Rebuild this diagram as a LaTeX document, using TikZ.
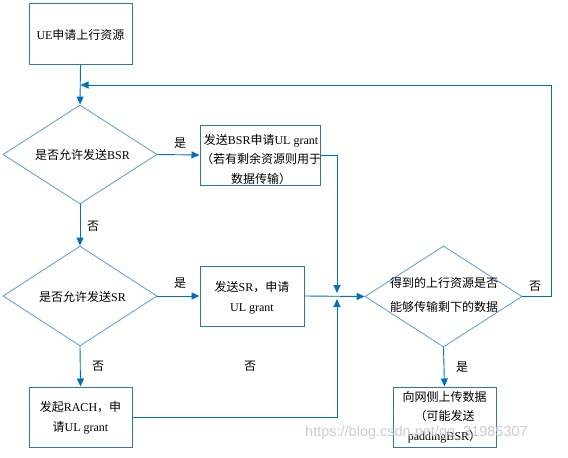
\documentclass[tikz,border=0pt]{standalone}
\usepackage{fontspec}
\setmainfont{Liberation Serif}
\newfontfamily\cjk{Noto Sans CJK SC}
\newcommand\zh[1]{{\cjk #1}}
\usetikzlibrary{arrows.meta,shapes.geometric}
\definecolor{boxblue}{RGB}{46,117,182}
\definecolor{diablue}{RGB}{91,155,213}
\definecolor{lineblue}{RGB}{0,112,192}
\tikzset{
  procbox/.style={draw=boxblue,line width=1pt,fill=white,rectangle,inner sep=0pt},
  decbox/.style={draw=diablue,line width=0.8pt,fill=white,diamond,inner sep=0pt},
  txt/.style={align=center,inner sep=0pt,font=\fontsize{12}{19.5}\selectfont},
  dtxt/.style={align=center,inner sep=0pt,font=\fontsize{12}{24}\selectfont},
  lbl/.style={inner sep=0pt,font=\fontsize{12}{14}\selectfont},
  conn/.style={draw=lineblue,line width=0.9pt},
  arr/.style={conn,-{Triangle[length=8pt,width=7pt]}},
  wmark/.style={inner sep=0pt,text=black!22,opacity=0.9,font=\fontspec{Liberation Sans}\fontsize{14.5}{16}\selectfont}
}
\begin{document}
\begin{tikzpicture}[x=1pt,y=-1pt]
\useasboundingbox (0,0) rectangle (568,458);
% process boxes
\node[procbox,minimum width=103pt,minimum height=61pt] (ue) at (80.5,34) {};
\node[procbox,minimum width=120pt,minimum height=60pt] (bsr) at (260,155) {};
\node[procbox,minimum width=104pt,minimum height=60pt] (sr) at (252,296) {};
\node[procbox,minimum width=103pt,minimum height=60pt] (rach) at (80.5,417) {};
\node[procbox,minimum width=103pt,minimum height=60pt] (fin) at (444.5,417) {};
% decisions
\node[decbox,minimum width=154pt,minimum height=99pt] (d1) at (80,154.5) {};
\node[decbox,minimum width=154pt,minimum height=100pt] (d2) at (80,296) {};
\node[decbox,minimum width=157pt,minimum height=101pt] (d3) at (443.5,296.5) {};
% texts
\node[txt] (uet) at (80.5,35) {UE\zh{申请上行资源}};
\node[txt] (bsrt) at (261,159.5) {\zh{发送}BSR\zh{申请}UL grant\\\zh{（若有剩余资源则用于}\\\zh{数据传输）}};
\node[txt] (srt) at (252,297.5) {\zh{发送}SR\zh{，申请}\\UL grant};
\node[txt] (racht) at (80.5,417.5) {\zh{发起}RACH\zh{，申}\\\zh{请}UL grant};
\node[txt] (fint) at (444.5,417) {\zh{向网侧上传数据}\\\zh{（可能发送}\\paddingBSR\zh{）}};
\node[txt] (d1t) at (82.5,155) {\zh{是否允许发送}BSR};
\node[txt] (d2t) at (82.5,297) {\zh{是否允许发送}SR};
\node[dtxt] (d3t) at (444,295) {\zh{得到的上行资源是否}\\\zh{能够传输剩下的数据}};
% labels
\node[lbl] (l1) at (180,143) {\zh{是}};
\node[lbl] (l2) at (93,226) {\zh{否}};
\node[lbl] (l3) at (180,283) {\zh{是}};
\node[lbl] (l4) at (98,366) {\zh{否}};
\node[lbl] (l5) at (250,366) {\zh{否}};
\node[lbl] (l6) at (462,367) {\zh{是}};
\node[lbl] (l7) at (535,286) {\zh{否}};
% coordinates
\coordinate (fb) at (80.5,85);
\coordinate (rc) at (551,85);
\coordinate (mjt) at (337,293);
\coordinate (mjb) at (337,299);
% connectors
\draw[arr] (ue.south) -- (d1.north);
\draw[arr] (d1.east) -- (bsr.west);
\draw[arr] (d1.south) -- (d2.north);
\draw[arr] (d2.east) -- (sr.west);
\draw[arr] (d2.south) -- (rach.north);
\draw[arr] (bsr.east) -| (mjt);
\draw[arr] (rach.east) -| (mjb);
\draw[arr] (sr.east) -- (d3.west);
\draw[arr] (d3.south) -- (fin.north);
\draw[arr] (d3.east) -| (rc) -- (fb);
% watermark
\node[wmark,anchor=west] (wm) at (305,433) {https://blog.csdn.net/qq\_31985307};
\end{tikzpicture}
\end{document}
